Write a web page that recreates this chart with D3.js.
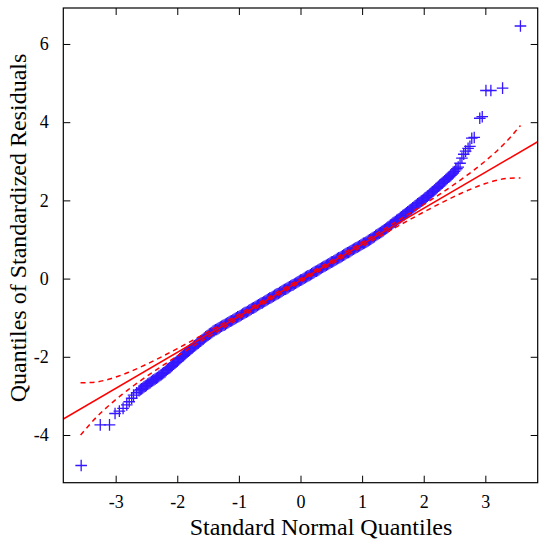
<!DOCTYPE html>
<html>
<head>
<meta charset="utf-8">
<script src="https://cdn.jsdelivr.net/npm/d3@7"></script>
<style>
  html, body { margin: 0; padding: 0; background: #fff; }
  svg { display: block; }
  text { font-family: "Liberation Serif", "Times New Roman", serif; fill: #000; }
</style>
</head>
<body>
<svg id="chart" width="550" height="548"></svg>
<script>
// ---- data ----
const qqTheoretical = [
  -3.56,-3.25,-3.10,-3.01,-2.94,-2.88,-2.82,-2.78,-2.74,-2.71,-2.66,-2.62,
  -2.60,-2.58,-2.56,-2.54,-2.52,-2.50,-2.48,-2.46,-2.44,-2.42,-2.40,-2.38,-2.36,-2.34,-2.32,-2.30,-2.28,-2.26,-2.24,-2.22,
  -2.20,-2.18,-2.16,-2.14,-2.12,-2.10,-2.08,-2.06,-2.04,-2.02,-2.00,-1.98,-1.96,-1.94,-1.92,-1.90,-1.88,-1.86,-1.84,-1.82,
  -1.80,-1.78,-1.76,-1.74,-1.72,-1.70,-1.68,-1.66,-1.64,-1.62,-1.60,-1.58,-1.56,-1.54,-1.52,-1.50,-1.48,-1.46,-1.44,-1.42,
  -1.40,-1.38,-1.36,-1.34,-1.32,-1.30,-1.28,-1.26,-1.24,-1.22,-1.20,-1.18,-1.16,-1.14,-1.12,-1.10,-1.08,-1.06,-1.04,-1.02,
  -1.00,-0.98,-0.96,-0.94,-0.92,-0.90,-0.88,-0.86,-0.84,-0.82,-0.80,-0.78,-0.76,-0.74,-0.72,-0.70,-0.68,-0.66,-0.64,-0.62,
  -0.60,-0.58,-0.56,-0.54,-0.52,-0.50,-0.48,-0.46,-0.44,-0.42,-0.40,-0.38,-0.36,-0.34,-0.32,-0.30,-0.28,-0.26,-0.24,-0.22,
  -0.20,-0.18,-0.16,-0.14,-0.12,-0.10,-0.08,-0.06,-0.04,-0.02,0.00,0.02,0.04,0.06,0.08,0.10,0.12,0.14,0.16,0.18,
  0.20,0.22,0.24,0.26,0.28,0.30,0.32,0.34,0.36,0.38,0.40,0.42,0.44,0.46,0.48,0.50,0.52,0.54,0.56,0.58,
  0.60,0.62,0.64,0.66,0.68,0.70,0.72,0.74,0.76,0.78,0.80,0.82,0.84,0.86,0.88,0.90,0.92,0.94,0.96,0.98,
  1.00,1.02,1.04,1.06,1.08,1.10,1.12,1.14,1.16,1.18,1.20,1.22,1.24,1.26,1.28,1.30,1.32,1.34,1.36,1.38,
  1.40,1.42,1.44,1.46,1.48,1.50,1.52,1.54,1.56,1.58,1.60,1.62,1.64,1.66,1.68,1.70,1.72,1.74,1.76,1.78,
  1.80,1.82,1.84,1.86,1.88,1.90,1.92,1.94,1.96,1.98,2.00,2.02,2.04,2.06,2.08,2.10,2.12,2.14,2.16,2.18,
  2.20,2.22,2.24,2.26,2.28,2.30,2.32,2.34,2.36,2.38,2.40,2.42,2.44,2.46,2.48,2.50,2.52,2.54,2.56,
  2.59,2.62,2.65,2.68,2.72,2.75,2.78,2.82,2.91,2.95,3.01,3.09,3.28,3.57
];
const qqSample = [
  -4.78,-3.74,-3.74,-3.45,-3.39,-3.32,-3.23,-3.15,-3.06,-2.98,-2.92,-2.87,
  -2.84,-2.82,-2.80,-2.77,-2.75,-2.73,-2.70,-2.68,-2.66,-2.63,-2.61,-2.59,-2.57,-2.55,-2.53,-2.50,-2.48,-2.46,-2.43,-2.41,
  -2.39,-2.35,-2.32,-2.30,-2.28,-2.25,-2.22,-2.19,-2.16,-2.14,-2.11,-2.08,-2.05,-2.02,-1.99,-1.97,-1.94,-1.91,-1.88,-1.86,
  -1.83,-1.80,-1.78,-1.75,-1.72,-1.70,-1.67,-1.65,-1.62,-1.60,-1.57,-1.55,-1.52,-1.49,-1.47,-1.45,-1.42,-1.40,-1.38,-1.35,
  -1.33,-1.31,-1.30,-1.28,-1.26,-1.24,-1.22,-1.20,-1.19,-1.17,-1.15,-1.13,-1.11,-1.09,-1.08,-1.06,-1.04,-1.02,-1.00,-0.98,
  -0.97,-0.95,-0.93,-0.91,-0.89,-0.87,-0.86,-0.84,-0.82,-0.80,-0.78,-0.76,-0.75,-0.73,-0.71,-0.69,-0.67,-0.65,-0.63,-0.62,
  -0.60,-0.58,-0.56,-0.54,-0.52,-0.50,-0.49,-0.47,-0.45,-0.43,-0.41,-0.39,-0.38,-0.36,-0.34,-0.32,-0.30,-0.28,-0.27,-0.25,
  -0.23,-0.21,-0.19,-0.17,-0.16,-0.14,-0.12,-0.10,-0.08,-0.06,-0.04,-0.03,-0.01,0.01,0.03,0.05,0.07,0.08,0.10,0.12,
  0.14,0.16,0.18,0.19,0.21,0.23,0.25,0.27,0.29,0.31,0.32,0.34,0.36,0.38,0.40,0.42,0.43,0.45,0.47,0.49,
  0.51,0.53,0.54,0.56,0.58,0.60,0.62,0.64,0.66,0.67,0.69,0.71,0.73,0.75,0.77,0.79,0.80,0.82,0.84,0.86,
  0.88,0.90,0.91,0.93,0.95,0.97,0.99,1.01,1.03,1.05,1.07,1.10,1.12,1.14,1.16,1.18,1.20,1.22,1.25,1.27,
  1.29,1.32,1.34,1.37,1.39,1.42,1.44,1.46,1.49,1.51,1.53,1.56,1.58,1.61,1.63,1.66,1.68,1.71,1.73,1.76,
  1.78,1.81,1.83,1.86,1.88,1.91,1.93,1.95,1.98,2.00,2.03,2.06,2.08,2.11,2.13,2.16,2.19,2.22,2.24,2.27,
  2.30,2.33,2.36,2.39,2.42,2.44,2.47,2.50,2.53,2.56,2.59,2.61,2.64,2.67,2.70,2.74,2.78,2.81,2.85,
  2.95,3.08,3.18,3.26,3.33,3.38,3.59,3.61,4.10,4.14,4.81,4.81,4.87,6.46
];

// reference line (two end points across the frame)
const refLineX = [-3.85, 3.85];
const refLineY = [-3.591, 3.501];

// confidence envelope
const bandX = [-3.57,-3.5,-3.4,-3.3,-3.2,-3.1,-3.0,-2.9,-2.8,-2.7,-2.6,-2.5,-2.25,-2.0,-1.75,-1.5,-1.0,-0.5,0,
               0.5,1.0,1.5,1.75,2.0,2.25,2.5,2.6,2.7,2.8,2.9,3.0,3.1,3.2,3.3,3.4,3.5,3.57];
const bandUpper = [-2.663,-2.662,-2.659,-2.641,-2.610,-2.569,-2.520,-2.464,-2.402,-2.336,-2.266,-2.192,-1.997,-1.791,
                   -1.578,-1.360,-0.913,-0.460,-0.001,0.462,0.929,1.404,1.646,1.893,2.147,2.414,2.524,2.638,2.756,
                   2.878,3.006,3.141,3.284,3.437,3.603,3.786,3.913];
const bandLower = [-4.003,-3.876,-3.693,-3.527,-3.374,-3.231,-3.096,-2.968,-2.846,-2.728,-2.614,-2.504,-2.237,-1.983,
                   -1.736,-1.494,-1.019,-0.552,-0.089,0.370,0.823,1.270,1.488,1.701,1.907,2.102,2.176,2.246,2.312,
                   2.374,2.430,2.479,2.520,2.551,2.569,2.572,2.573];

const xTicks = [-3,-2,-1,0,1,2,3];
const yTicks = [-4,-2,0,2,4,6];
const xTitle = "Standard Normal Quantiles";
const yTitle = "Quantiles of Standardized Residuals";

// ---- drawing ----
const svg = d3.select("#chart");
const L = 63.3, R = 537.7, T = 8, B = 482.7;
const x = d3.scaleLinear().domain([-3.85, 3.85]).range([L, R]);
const y = d3.scaleLinear().domain([-5.22, 6.92]).range([B, T]);

svg.append("defs").append("clipPath").attr("id", "clip")
  .append("rect").attr("x", L).attr("y", T).attr("width", R - L).attr("height", B - T);

const pts = d3.zip(qqTheoretical, qqSample);
const plotG = svg.append("g").attr("clip-path", "url(#clip)");
plotG.append("g").selectAll("path").data(pts).join("path")
  .attr("transform", d => `translate(${x(d[0])},${y(d[1])})`)
  .attr("d", "M-5.8,0H5.8M0,-5.8V5.8")
  .attr("stroke", "#3416ff")
  .attr("stroke-width", 1.3)
  .attr("fill", "none");

const line = d3.line().x(d => x(d[0])).y(d => y(d[1]));
plotG.append("path").datum(d3.zip(refLineX, refLineY))
  .attr("d", line).attr("fill", "none").attr("stroke", "#ff0000").attr("stroke-width", 1.5);
const curve = d3.line().x(d => x(d[0])).y(d => y(d[1])).curve(d3.curveMonotoneX);
[bandUpper, bandLower].forEach(arr => {
  plotG.append("path").datum(d3.zip(bandX, arr))
    .attr("d", curve).attr("fill", "none").attr("stroke", "#ff0000")
    .attr("stroke-width", 1.5).attr("stroke-dasharray", "5,4");
});

// axes with inward ticks
const tl = 7;
const axB = svg.append("g").attr("transform", `translate(0,${B})`)
  .call(d3.axisBottom(x).tickValues(xTicks).tickSize(-tl).tickPadding(12.5).tickFormat(d => String(d)));
const axT = svg.append("g").attr("transform", `translate(0,${T})`)
  .call(d3.axisTop(x).tickValues(xTicks).tickSize(-tl).tickFormat(""));
const axL = svg.append("g").attr("transform", `translate(${L},0)`)
  .call(d3.axisLeft(y).tickValues(yTicks).tickSize(-tl).tickPadding(14.5).tickFormat(d => String(d)));
const axRt = svg.append("g").attr("transform", `translate(${R},0)`)
  .call(d3.axisRight(y).tickValues(yTicks).tickSize(-tl).tickFormat(""));
[axB, axT, axL, axRt].forEach(g => {
  g.select(".domain").remove();
  g.selectAll("line").attr("stroke", "#000").attr("stroke-width", 1);
  g.selectAll("text").style("font-family", '"Liberation Serif", serif').attr("font-size", 18).attr("fill", "#000");
});

svg.append("rect").attr("x", L).attr("y", T).attr("width", R - L).attr("height", B - T)
  .attr("fill", "none").attr("stroke", "#000").attr("stroke-width", 1.2);

svg.append("text").attr("x", 321).attr("y", 535).attr("text-anchor", "middle")
  .attr("font-size", 24).text(xTitle);
svg.append("text").attr("transform", "translate(26,228) rotate(-90)").attr("text-anchor", "middle")
  .attr("font-size", 24).text(yTitle);
</script>
</body>
</html>
